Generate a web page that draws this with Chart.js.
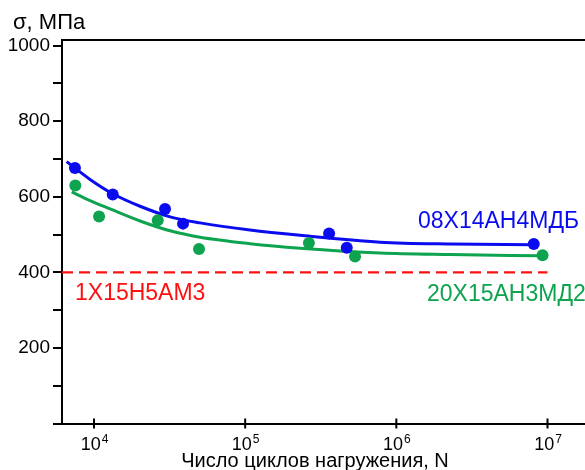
<!DOCTYPE html>
<html lang="ru">
<head>
<meta charset="utf-8">
<title>Усталостная прочность</title>
<script src="https://cdn.jsdelivr.net/npm/chart.js@4"></script>
<style>
  html, body { margin: 0; padding: 0; background: #fff; overflow: hidden; }
  #wrap { width: 585px; height: 470px; overflow: hidden; }
</style>
</head>
<body>
<div id="wrap"><canvas id="fatigue" width="600" height="470"></canvas></div>
<script>
// Экспериментальные точки: число циклов N и напряжение σ, МПа
const blueN = [7480, 13300, 29500, 38800, 359000, 470000, 8110000];
const blueS = [676, 606, 568, 529, 503, 465, 475];
const greenN = [7520, 10800, 26400, 49500, 264000, 533000, 9270000];
const greenS = [630, 548, 538, 462, 478, 442, 445];

// Аппроксимирующие кривые
const blueCurveN = [6590, 9410, 13300, 20160, 31840, 50300, 107700, 230900, 781400, 2270000, 8040000];
const blueCurveS = [693, 646, 608, 575, 547, 531, 512, 498, 480, 475, 473];
const greenCurveN = [7120, 9410, 12760, 20160, 31840, 50300, 107700, 230900, 781400, 2270000, 8950000];
const greenCurveS = [613, 590, 568, 536, 510, 493, 476, 464, 451, 447, 444];

// Уровень для стали 1Х15Н5АМ3
const limitN = [6140, 10000000];
const limitS = [400, 400];

// Подписи оси X (показатели степени)
const xTickExp = [4, 5, 6, 7];

const steelNames = ['08Х14АН4МДБ', '20Х15АН3МД2', '1Х15Н5АМ3'];

const BLUE = '#0b0bef';
const GREEN = '#0ea34e';
const RED = '#ff1010';
const FONT = '"Liberation Sans", Arial, sans-serif';

function pts(xs, ys) {
    return xs.map((x, i) => ({ x: x, y: ys[i] }));
}

// Рамка сверху, засечки и подписи оси X, текстовые надписи
const decor = {
    id: 'decor',
    afterDraw(chart) {
        const ctx = chart.ctx;
        const area = chart.chartArea;
        const xs = chart.scales.x;
        ctx.save();
        ctx.strokeStyle = '#000';
        ctx.lineWidth = 2;
        ctx.beginPath();
        ctx.moveTo(area.left - 1, area.top);
        ctx.lineTo(area.right, area.top);
        ctx.stroke();

        ctx.fillStyle = '#000';
        ctx.textBaseline = 'alphabetic';
        xTickExp.forEach(e => {
            const px = xs.getPixelForValue(Math.pow(10, e));
            ctx.beginPath();
            ctx.moveTo(px, area.bottom - 5);
            ctx.lineTo(px, area.bottom + 5);
            ctx.stroke();
            ctx.font = '18px ' + FONT;
            const w1 = ctx.measureText('10').width;
            ctx.font = '12px ' + FONT;
            const w2 = ctx.measureText(String(e)).width;
            const left = px - (w1 + w2) / 2;
            ctx.font = '18px ' + FONT;
            ctx.textAlign = 'left';
            ctx.fillText('10', left, 450);
            ctx.font = '12px ' + FONT;
            ctx.fillText(String(e), left + w1 + 1, 443);
        });

        ctx.font = '20px ' + FONT;
        ctx.textAlign = 'center';
        ctx.fillText('Число циклов нагружения, N', 315, 467);

        ctx.textAlign = 'left';
        ctx.font = '22px ' + FONT;
        ctx.fillText('σ, МПа', 13, 29);

        ctx.font = '23px ' + FONT;
        ctx.fillStyle = BLUE;
        ctx.fillText(steelNames[0], 418, 228);
        ctx.fillStyle = GREEN;
        ctx.fillText(steelNames[1], 427, 301);
        ctx.fillStyle = RED;
        ctx.fillText(steelNames[2], 75, 300);
        ctx.restore();
    }
};

new Chart(document.getElementById('fatigue'), {
    type: 'line',
    data: {
        datasets: [
            {
                data: pts(blueN, blueS), showLine: false,
                pointRadius: 6, pointBackgroundColor: BLUE, pointBorderWidth: 0
            },
            {
                data: pts(greenN, greenS), showLine: false,
                pointRadius: 6, pointBackgroundColor: GREEN, pointBorderWidth: 0
            },
            {
                data: pts(blueCurveN, blueCurveS), borderColor: BLUE, borderWidth: 3,
                pointRadius: 0, cubicInterpolationMode: 'monotone'
            },
            {
                data: pts(greenCurveN, greenCurveS), borderColor: GREEN, borderWidth: 3,
                pointRadius: 0, cubicInterpolationMode: 'monotone'
            },
            {
                data: pts(limitN, limitS), borderColor: RED, borderWidth: 2.3,
                borderDash: [11, 6], pointRadius: 0
            }
        ]
    },
    options: {
        responsive: false,
        animation: false,
        devicePixelRatio: 1,
        layout: { padding: { left: 0, top: 40, right: 7, bottom: 0 } },
        plugins: { legend: { display: false }, tooltip: { enabled: false } },
        scales: {
            x: {
                type: 'logarithmic',
                min: 6140,
                max: 20000000,
                grid: { display: false },
                border: { display: true, color: '#000', width: 2 },
                ticks: { display: false },
                afterFit: s => { s.height = 46.5; }
            },
            y: {
                type: 'linear',
                min: 0,
                max: 1015,
                afterBuildTicks: s => { s.ticks = s.ticks.filter(t => t.value % 100 === 0); },
                afterFit: s => { s.width = 62; },
                grid: {
                    drawOnChartArea: false, drawTicks: true, tickLength: 9,
                    color: '#000', lineWidth: 2
                },
                border: { display: true, color: '#000', width: 2 },
                ticks: {
                    stepSize: 100,
                    includeBounds: false,
                    padding: 3,
                    color: '#000',
                    font: { family: FONT, size: 19 },
                    callback: v => (v % 200 === 0 && v > 0 ? v : '')
                }
            }
        }
    },
    plugins: [decor]
});
</script>
</body>
</html>
